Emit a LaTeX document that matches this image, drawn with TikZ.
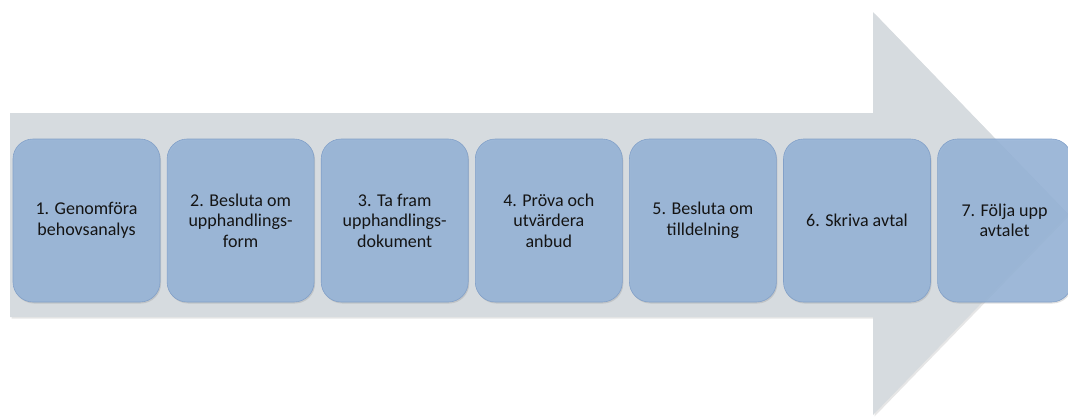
\documentclass[tikz,border=0pt]{standalone}
\usepackage{fontspec}
\setmainfont{Carlito}
\definecolor{StepBlue} {RGB}{149,179,215}
\definecolor{StepEdge} {RGB}{130,160,200}
\definecolor{FlowGray} {RGB}{214,219,223}
\definecolor{StepText} {RGB}{20,20,20}
\usetikzlibrary{positioning,shadows}

\begin{document}
\begin{tikzpicture}[x=1pt,y=-1pt,node distance=6.5pt,
  stepbox/.style={draw=StepEdge,line width=0.6pt,fill=StepBlue,fill opacity=0.88,
              text opacity=1,text=StepText,rounded corners=20pt,
              minimum width=147pt,minimum height=163pt,
              align=center,font=\fontsize{18}{20.5}\selectfont,
              drop shadow={opacity=0.25,shadow xshift=1pt,shadow yshift=-1.5pt}}]
  \useasboundingbox (0,0) rectangle (1068,416);
  % big process arrow behind the steps
  \fill[FlowGray,drop shadow={opacity=0.2,shadow xshift=1.5pt,shadow yshift=-1.5pt}]
    (10,113) -- (873,113) -- (873,12) -- (1068,214) -- (873,415)
    -- (873,317) -- (10,317) -- cycle;
  \node[stepbox] (S1) at (86.5,220.5){1. Genomföra\\behovsanalys};
  \node[stepbox,right=of S1](S2){2. Besluta om\\upphandlings-\\form};
  \node[stepbox,right=of S2](S3){3. Ta fram\\upphandlings-\\dokument};
  \node[stepbox,right=of S3](S4){4. Pröva och\\utvärdera\\anbud};
  \node[stepbox,right=of S4](S5){5. Besluta om\\tilldelning};
  \node[stepbox,right=of S5](S6){6. Skriva avtal};
  \node[stepbox,right=of S6,minimum width=134pt](S7){7. Följa upp\\avtalet};
\end{tikzpicture}
\end{document}
